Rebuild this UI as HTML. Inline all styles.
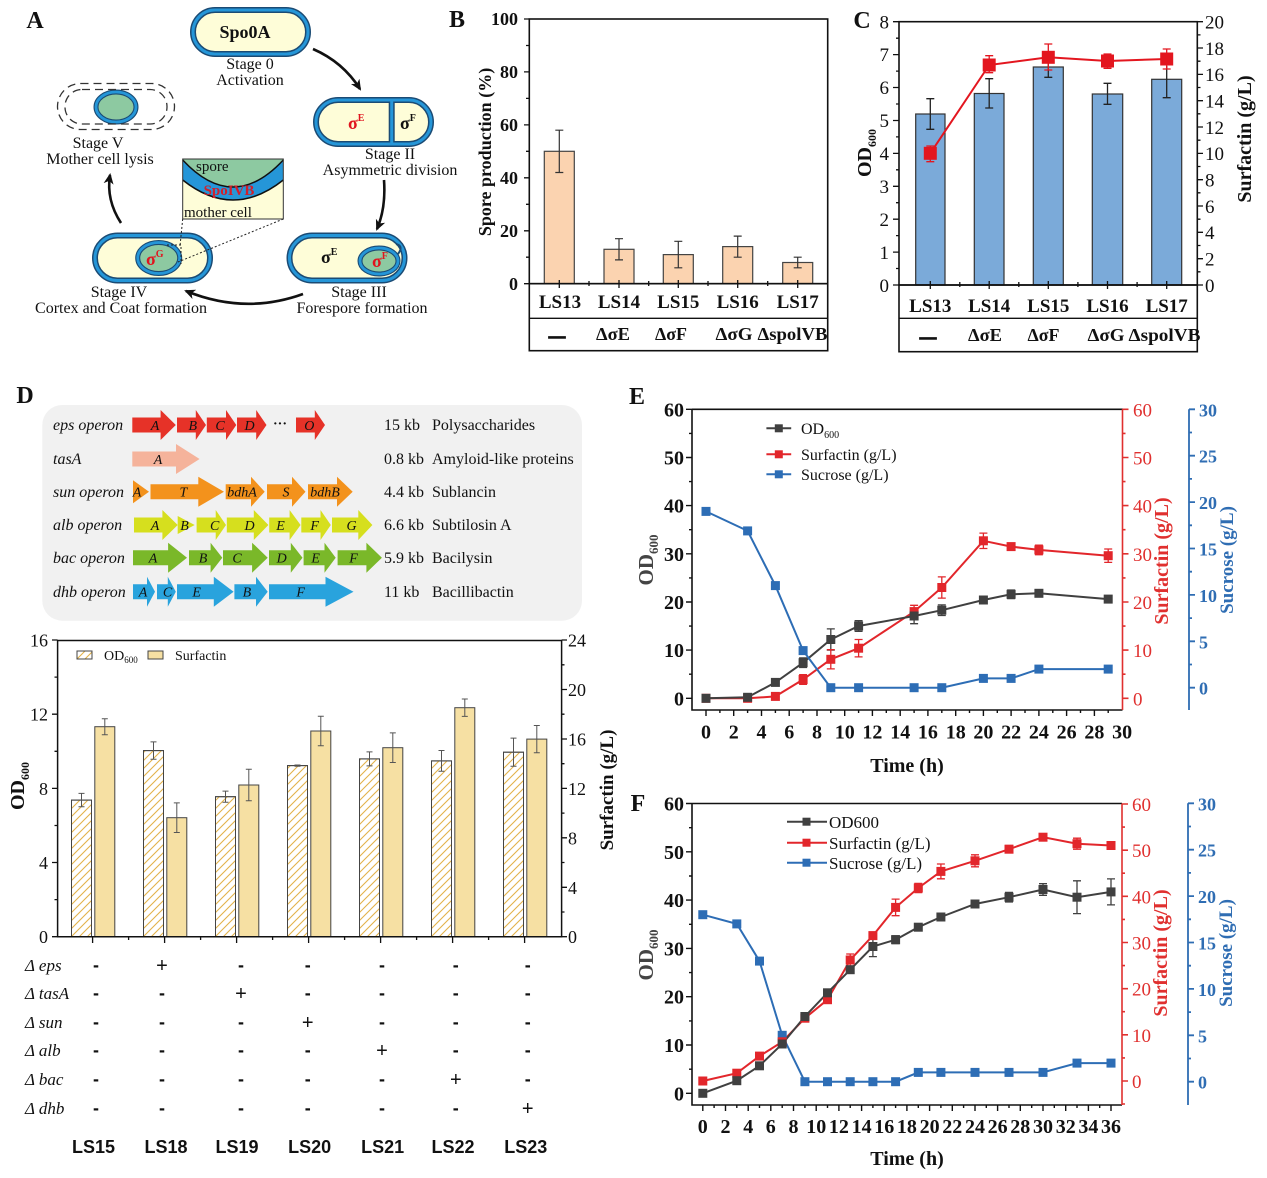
<!DOCTYPE html>
<html><head><meta charset="utf-8">
<style>
html,body{margin:0;padding:0;background:#fff;}
svg{display:block;}
text{font-family:"Liberation Serif","DejaVu Serif",serif;fill:#111;}
.b{font-weight:bold;}
.i{font-style:italic;}
.s{font-family:"Liberation Sans","DejaVu Sans",sans-serif;}
</style></head><body>
<svg width="1267" height="1178" viewBox="0 0 1267 1178" xmlns="http://www.w3.org/2000/svg">
<defs>
<marker id="ah" markerWidth="12" markerHeight="12" refX="9" refY="6" orient="auto" markerUnits="userSpaceOnUse"><path d="M0,1 L11,6 L0,11 L3,6 Z" fill="#111"/></marker>
<pattern id="hatch" width="8" height="8" patternUnits="userSpaceOnUse"><path d="M-1,9 L9,-1 M-1,1 L1,-1 M7,9 L9,7" stroke="#E3B24A" stroke-width="1.1"/></pattern>
</defs>
<rect width="1267" height="1178" fill="#fff"/>

<!-- ============ PANEL A ============ -->
<text x="35" y="28" font-size="24" class="b" text-anchor="middle">A</text>
<g fill="#FEFDD8" stroke="#1B4B74" stroke-width="6">
<rect x="193" y="10" width="115" height="44" rx="22"/>
<rect x="316" y="100" width="115" height="44" rx="22"/>
<rect x="289.5" y="235.5" width="115" height="45" rx="22.5"/>
<rect x="95" y="235.5" width="115" height="45" rx="22.5"/>
<line x1="391.7" y1="100" x2="391.7" y2="144"/>
</g>
<g fill="none" stroke="#2596D8" stroke-width="3">
<rect x="193" y="10" width="115" height="44" rx="22"/>
<rect x="316" y="100" width="115" height="44" rx="22"/>
<rect x="289.5" y="235.5" width="115" height="45" rx="22.5"/>
<rect x="95" y="235.5" width="115" height="45" rx="22.5"/>
<line x1="391.7" y1="101" x2="391.7" y2="143"/>
</g>
<g stroke="#1B4B74" stroke-width="5" fill="#8DC9A1">
<ellipse cx="379" cy="261" rx="19" ry="13"/>
<ellipse cx="158.7" cy="258" rx="21" ry="15.5"/>
<ellipse cx="116" cy="107" rx="20" ry="15"/>
</g>
<g stroke="#2596D8" stroke-width="2.8" fill="none">
<ellipse cx="379" cy="261" rx="19" ry="13"/>
<ellipse cx="158.7" cy="258" rx="21" ry="15.5"/>
<ellipse cx="116" cy="107" rx="20" ry="15"/>
</g>
<path d="M398,254 Q404,246 396,244" fill="none" stroke="#1B4B74" stroke-width="2"/>
<rect x="57.5" y="83.5" width="117" height="46" rx="23" fill="none" stroke="#333" stroke-width="1.3" stroke-dasharray="8,5"/>
<rect x="65" y="89.5" width="102" height="34.5" rx="17" fill="none" stroke="#333" stroke-width="1.3" stroke-dasharray="8,5"/>
<text x="348" y="129" font-size="18" class="b" style="fill:#E0141E">σ<tspan font-size="10" dy="-8">E</tspan></text>
<text x="400" y="129" font-size="18" class="b">σ<tspan font-size="10" dy="-8">F</tspan></text>
<text x="321" y="263" font-size="18" class="b">σ<tspan font-size="10" dy="-8">E</tspan></text>
<text x="372" y="267" font-size="18" class="b" style="fill:#E0141E">σ<tspan font-size="10" dy="-8">F</tspan></text>
<text x="146" y="265" font-size="18" class="b" style="fill:#E0141E">σ<tspan font-size="10" dy="-8">G</tspan></text>
<text x="245" y="38" font-size="18" class="b" text-anchor="middle">Spo0A</text>
<g font-size="16" text-anchor="middle">
<text x="250" y="69">Stage 0</text>
<text x="250" y="85">Activation</text>
<text x="390" y="159">Stage II</text>
<text x="390" y="175">Asymmetric division</text>
<text x="359" y="297">Stage III</text>
<text x="362" y="313">Forespore formation</text>
<text x="119" y="297">Stage IV</text>
<text x="121" y="313">Cortex and Coat formation</text>
<text x="98" y="148">Stage V</text>
<text x="100" y="164">Mother cell lysis</text>
</g>
<rect x="182.7" y="159" width="100.6" height="60" fill="#FEFDD8"/>
<path d="M182.7,159 H283.3 V160 Q233,214 182.7,160 Z" fill="#8DC9A1"/>
<path d="M182.7,160 Q233,214 283.3,160 V180 Q233,220 182.7,180 Z" fill="#2596D8"/>
<path d="M182.7,160 Q233,214 283.3,160 M182.7,180 Q233,220 283.3,180" fill="none" stroke="#111" stroke-width="1.5"/>
<rect x="182.7" y="159" width="100.6" height="60" fill="none" stroke="#333" stroke-width="1"/>
<text x="196" y="171" font-size="15">spore</text>
<text x="229" y="195" font-size="15" class="b" text-anchor="middle" style="fill:#D0202C">SpoIVB</text>
<text x="184" y="217" font-size="15">mother cell</text>
<g stroke="#222" stroke-width="1" stroke-dasharray="2,2" fill="none">
<path d="M182.7,219 L180,246 M283.3,219 L178,262 M167,245 H181 V264"/>
</g>
<g fill="none" stroke="#111" stroke-width="2.6" marker-end="url(#ah)">
<path d="M313,49 Q343,62 360,89"/>
<path d="M384,180 Q386,208 377,229"/>
<path d="M303,294 Q245,315 186,291"/>
<path d="M121,223 Q106,200 110,175"/>
</g>

<!-- ============ PANEL B ============ -->
<text x="457" y="27" font-size="24" class="b" text-anchor="middle">B</text>
<g fill="#FBD3B0" stroke="#444" stroke-width="1.2">
<rect x="544.3" y="151.3" width="30" height="132.4"/>
<rect x="604" y="249.3" width="30" height="34.4"/>
<rect x="663.3" y="254.6" width="30" height="29.1"/>
<rect x="722.7" y="246.6" width="30" height="37.1"/>
<rect x="782.7" y="262.5" width="30" height="21.2"/>
</g>
<path d="M559.3,130.2V172.5M555.3,130.2H563.3M555.3,172.5H563.3 M619,238.7V259.9M615,238.7H623M615,259.9H623 M678.3,241.3V267.8M674.3,241.3H682.3M674.3,267.8H682.3 M737.7,236.1V257.2M733.7,236.1H741.7M733.7,257.2H741.7 M797.7,257.2V267.8M793.7,257.2H801.7M793.7,267.8H801.7" stroke="#333" stroke-width="1.2" fill="none"/>
<rect x="529.3" y="19" width="298.4" height="264.7" fill="none" stroke="#111" stroke-width="1.6"/>
<rect x="529.3" y="283.7" width="298.4" height="67" fill="none" stroke="#111" stroke-width="1.6"/>
<line x1="529.3" y1="318.3" x2="827.7" y2="318.3" stroke="#111" stroke-width="1.3"/>
<path d="M524,283.7H529.3M524,230.8H529.3M524,177.8H529.3M524,124.9H529.3M524,71.9H529.3M524,19H529.3 M526,257.2H529.3M526,204.3H529.3M526,151.3H529.3M526,98.4H529.3M526,45.5H529.3 M559.3,280V288M619,280V288M678.3,280V288M737.7,280V288M797.7,280V288 M589,281V286M648.7,281V286M708,281V286M767.7,281V286" stroke="#111" stroke-width="1.3"/>
<g font-size="18" class="b" text-anchor="end">
<text x="518" y="25" class="b">100</text>
<text x="518" y="78" class="b">80</text>
<text x="518" y="131" class="b">60</text>
<text x="518" y="184" class="b">40</text>
<text x="518" y="237" class="b">20</text>
<text x="518" y="290" class="b">0</text>
</g>
<text transform="translate(491,152) rotate(-90)" font-size="18" class="b" text-anchor="middle">Spore production (%)</text>
<g font-size="19" class="b" text-anchor="middle">
<text x="560" y="308" class="b">LS13</text>
<text x="619" y="308" class="b">LS14</text>
<text x="678.3" y="308" class="b">LS15</text>
<text x="737.7" y="308" class="b">LS16</text>
<text x="797.7" y="308" class="b">LS17</text>
</g>
<g font-size="18" class="b" text-anchor="middle">
<text x="557" y="341" class="b" stroke="#111" stroke-width="1.6" font-size="16">—</text>
<text x="613" y="340" class="b" textLength="34" lengthAdjust="spacingAndGlyphs">ΔσE</text>
<text x="671" y="340" class="b" textLength="32" lengthAdjust="spacingAndGlyphs">ΔσF</text>
<text x="734" y="340" class="b" textLength="37" lengthAdjust="spacingAndGlyphs">ΔσG</text>
<text x="792.5" y="340" class="b" textLength="70" lengthAdjust="spacingAndGlyphs">ΔspolVB</text>
</g>

<!-- ============ PANEL C ============ -->
<text x="862" y="28" font-size="24" class="b" text-anchor="middle">C</text>
<g fill="#7BAAD9" stroke="#333" stroke-width="1.2">
<rect x="915.7" y="114" width="29.3" height="171"/>
<rect x="974.3" y="93.5" width="29.7" height="191.5"/>
<rect x="1033.3" y="67" width="30" height="218"/>
<rect x="1092.3" y="94" width="30.4" height="191"/>
<rect x="1151.7" y="79.3" width="30" height="205.7"/>
</g>
<path d="M930.3,98.7V129.3M926.3,98.7H934.3M926.3,129.3H934.3 M989.2,78.7V108M985.2,78.7H993.2M985.2,108H993.2 M1048.3,60V77.3M1044.3,77.3H1052.3 M1107.5,83.3V104.3M1103.5,83.3H1111.5M1103.5,104.3H1111.5 M1166.7,66V97.7M1162.7,97.7H1170.7" stroke="#222" stroke-width="1.3" fill="none"/>
<polyline points="930.3,153.3 989.2,65 1048.3,57.3 1107.5,61 1166.7,59" fill="none" stroke="#E3161F" stroke-width="2"/>
<path d="M930.3,146V161.7M926.3,146H934.3M926.3,161.7H934.3 M989.2,55.7V72.7M985.2,55.7H993.2M985.2,72.7H993.2 M1048.3,44V70M1044.3,44H1052.3M1044.3,70H1052.3 M1107.5,54V68.3M1103.5,54H1111.5M1103.5,68.3H1111.5 M1166.7,49V69M1162.7,49H1170.7M1162.7,69H1170.7" stroke="#E3161F" stroke-width="1.3" fill="none"/>
<g fill="#E3161F">
<rect x="923.8" y="146.8" width="13" height="13"/>
<rect x="982.7" y="58.5" width="13" height="13"/>
<rect x="1041.8" y="50.8" width="13" height="13"/>
<rect x="1101" y="54.5" width="13" height="13"/>
<rect x="1160.2" y="52.5" width="13" height="13"/>
</g>
<rect x="899" y="21.7" width="298.3" height="263.3" fill="none" stroke="#111" stroke-width="1.6"/>
<rect x="899" y="285" width="298.3" height="66.7" fill="none" stroke="#111" stroke-width="1.6"/>
<line x1="899" y1="318.3" x2="1197.3" y2="318.3" stroke="#111" stroke-width="1.3"/>
<path d="M893,285H899M893,252.1H899M893,219.2H899M893,186.3H899M893,153.4H899M893,120.5H899M893,87.5H899M893,54.6H899M893,21.7H899 M896,268.5H899M896,235.6H899M896,202.7H899M896,169.8H899M896,136.9H899M896,104H899M896,71.1H899M896,38.2H899 M1197.3,285H1203M1197.3,258.7H1203M1197.3,232.3H1203M1197.3,206H1203M1197.3,179.7H1203M1197.3,153.4H1203M1197.3,127H1203M1197.3,100.7H1203M1197.3,74.4H1203M1197.3,48H1203M1197.3,21.7H1203 M1197.3,271.8H1200.5M1197.3,245.5H1200.5M1197.3,219.2H1200.5M1197.3,192.8H1200.5M1197.3,166.5H1200.5M1197.3,140.2H1200.5M1197.3,113.8H1200.5M1197.3,87.5H1200.5M1197.3,61.2H1200.5M1197.3,34.9H1200.5 M930.3,281V289M989.2,281V289M1048.3,281V289M1107.5,281V289M1166.7,281V289 M959.8,282V287M1018.8,282V287M1077.9,282V287M1137.1,282V287" stroke="#111" stroke-width="1.3"/>
<g font-size="19" text-anchor="end">
<text x="889" y="292">0</text><text x="889" y="259">1</text><text x="889" y="226">2</text><text x="889" y="193">3</text><text x="889" y="160">4</text><text x="889" y="127">5</text><text x="889" y="94">6</text><text x="889" y="61">7</text><text x="889" y="28.5">8</text>
</g>
<g font-size="19" text-anchor="start">
<text x="1205" y="292">0</text><text x="1205" y="265.5">2</text><text x="1205" y="239">4</text><text x="1205" y="213">6</text><text x="1205" y="186.5">8</text><text x="1205" y="160">10</text><text x="1205" y="134">12</text><text x="1205" y="107.5">14</text><text x="1205" y="81">16</text><text x="1205" y="55">18</text><text x="1205" y="28.5">20</text>
</g>
<text transform="translate(871,153) rotate(-90)" font-size="20" class="b" text-anchor="middle">OD<tspan font-size="12" dy="5">600</tspan></text>
<text transform="translate(1251,139) rotate(-90)" font-size="20" class="b" text-anchor="middle">Surfactin (g/L)</text>
<g font-size="19" class="b" text-anchor="middle">
<text x="930.3" y="312" class="b">LS13</text>
<text x="989.2" y="312" class="b">LS14</text>
<text x="1048.3" y="312" class="b">LS15</text>
<text x="1107.5" y="312" class="b">LS16</text>
<text x="1166.7" y="312" class="b">LS17</text>
</g>
<g font-size="18" class="b" text-anchor="middle">
<text x="928" y="342" class="b" stroke="#111" stroke-width="1.6" font-size="16">—</text>
<text x="985" y="341" class="b" textLength="34" lengthAdjust="spacingAndGlyphs">ΔσE</text>
<text x="1043.5" y="341" class="b" textLength="32" lengthAdjust="spacingAndGlyphs">ΔσF</text>
<text x="1106" y="341" class="b" textLength="37" lengthAdjust="spacingAndGlyphs">ΔσG</text>
<text x="1164.5" y="341" class="b" textLength="72" lengthAdjust="spacingAndGlyphs">ΔspolVB</text>
</g>

<!-- ============ PANEL D top ============ -->
<text x="25" y="403" font-size="24" class="b" text-anchor="middle">D</text>
<rect x="42.3" y="405" width="539.7" height="215.7" rx="20" fill="#F1F1F1"/>
<g fill="#E63228">
<path d="M132.3,417.5H160.6V410L175.8,425L160.6,440V432.5H132.3Z"/>
<path d="M177,417.5H195.8V410L206,425L195.8,440V432.5H177Z"/>
<path d="M206.8,417.5H226V410L236.3,425L226,440V432.5H206.8Z"/>
<path d="M237,417.5H256.2V410L266.5,425L256.2,440V432.5H237Z"/>
<path d="M296,417.5H314.8V410L325,425L314.8,440V432.5H296Z"/>
</g>
<path fill="#F5B39B" d="M132.3,451.5H176V444L199.6,459L176,474V466.5H132.3Z"/>
<g fill="#F3921C">
<path d="M133,480.2L149,491.7L133,503.2Z"/>
<path d="M150.5,484.2H198.3V476.7L224,491.7L198.3,506.7V499.2H150.5Z"/>
<path d="M225.7,484.2H251V476.7L264.7,491.7L251,506.7V499.2H225.7Z"/>
<path d="M267,484.2H292V476.7L305.5,491.7L292,506.7V499.2H267Z"/>
<path d="M308,484.2H337V476.7L352.7,491.7L337,506.7V499.2H308Z"/>
</g>
<g fill="#D6DF1E">
<path d="M134,517.5H162.4V510L177.7,525L162.4,540V532.5H134Z"/>
<path d="M177.7,516L194.7,525L177.7,534Z"/>
<path d="M196.6,517.5H215.7V510L226,525L215.7,540V532.5H196.6Z"/>
<path d="M226.8,517.5H253.8V510L268.4,525L253.8,540V532.5H226.8Z"/>
<path d="M269.2,517.5H289.6V510L300.6,525L289.6,540V532.5H269.2Z"/>
<path d="M301.3,517.5H320.5V510L330.8,525L320.5,540V532.5H301.3Z"/>
<path d="M332,517.5H358.3V510L372.4,525L358.3,540V532.5H332Z"/>
</g>
<g fill="#7AB829">
<path d="M133,550.2H168.1V542.7L187,557.7L168.1,572.7V565.2H133Z"/>
<path d="M189,550.2H210.6V542.7L222.3,557.7L210.6,572.7V565.2H189Z"/>
<path d="M223,550.2H252.1V542.7L267.7,557.7L252.1,572.7V565.2H223Z"/>
<path d="M269,550.2H290.8V542.7L302.5,557.7L290.8,572.7V565.2H269Z"/>
<path d="M303.6,550.2H324.5V542.7L335.7,557.7L324.5,572.7V565.2H303.6Z"/>
<path d="M337.6,550.2H366.4V542.7L381.9,557.7L366.4,572.7V565.2H337.6Z"/>
</g>
<g fill="#29A3DD">
<path d="M133,584.2H147V576.7L155,591.7L147,606.7V599.2H133Z"/>
<path d="M157,584.2H167.8V576.7L175.8,591.7L167.8,606.7V599.2H157Z"/>
<path d="M177,584.2H213.8V576.7L233.6,591.7L213.8,606.7V599.2H177Z"/>
<path d="M234.4,584.2H256V576.7L267.7,591.7L256,606.7V599.2H234.4Z"/>
<path d="M269,584.2H325.5V576.7L353.5,591.7L325.5,606.7V599.2H269Z"/>
</g>
<g font-size="14" class="i" text-anchor="middle">
<text x="155" y="430" class="i">A</text><text x="192.8" y="430" class="i">B</text><text x="220" y="430" class="i">C</text><text x="249.5" y="430" class="i">D</text><text x="309.3" y="430" class="i">O</text>
<text x="158" y="464" class="i">A</text>
<text x="137" y="496.7" class="i">A</text><text x="183.4" y="496.7" class="i">T</text><text x="242" y="496.7" class="i">bdhA</text><text x="286" y="496.7" class="i">S</text><text x="325" y="496.7" class="i">bdhB</text>
<text x="155" y="530" class="i">A</text><text x="184.5" y="530" class="i">B</text><text x="214.7" y="530" class="i">C</text><text x="249.5" y="530" class="i">D</text><text x="280.5" y="530" class="i">E</text><text x="314.6" y="530" class="i">F</text><text x="351.6" y="530" class="i">G</text>
<text x="153" y="562.7" class="i">A</text><text x="203" y="562.7" class="i">B</text><text x="237" y="562.7" class="i">C</text><text x="281.7" y="562.7" class="i">D</text><text x="315.7" y="562.7" class="i">E</text><text x="353.5" y="562.7" class="i">F</text>
<text x="143" y="596.7" class="i">A</text><text x="167.5" y="596.7" class="i">C</text><text x="196.6" y="596.7" class="i">E</text><text x="246.9" y="596.7" class="i">B</text><text x="300.6" y="596.7" class="i">F</text>
</g>
<text x="280" y="428" font-size="14" class="b" text-anchor="middle">···</text>
<g font-size="16" class="i">
<text x="53" y="430" class="i">eps operon</text>
<text x="53" y="464" class="i">tasA</text>
<text x="53" y="497" class="i">sun operon</text>
<text x="53" y="530" class="i">alb operon</text>
<text x="53" y="563" class="i">bac operon</text>
<text x="53" y="597" class="i">dhb operon</text>
</g>
<g font-size="16">
<text x="384" y="430">15 kb</text><text x="432" y="430">Polysaccharides</text>
<text x="384" y="464">0.8 kb</text><text x="432" y="464">Amyloid-like proteins</text>
<text x="384" y="497">4.4 kb</text><text x="432" y="497">Sublancin</text>
<text x="384" y="530">6.6 kb</text><text x="432" y="530">Subtilosin A</text>
<text x="384" y="563">5.9 kb</text><text x="432" y="563">Bacilysin</text>
<text x="384" y="597">11 kb</text><text x="432" y="597">Bacillibactin</text>
</g>

<!-- ============ PANEL D bottom ============ -->
<g stroke="#444" stroke-width="1">
<rect x="71.5" y="800.1" width="20" height="136.6" fill="#fff"/>
<rect x="143.5" y="750.6" width="20" height="186.1" fill="#fff"/>
<rect x="215.5" y="796.7" width="20" height="140" fill="#fff"/>
<rect x="287.5" y="765.6" width="20" height="171.1" fill="#fff"/>
<rect x="359.5" y="758.9" width="20" height="177.8" fill="#fff"/>
<rect x="431.5" y="760.9" width="20" height="175.8" fill="#fff"/>
<rect x="503.5" y="752.2" width="20" height="184.5" fill="#fff"/>
</g>
<g fill="url(#hatch)" stroke="#444" stroke-width="1">
<rect x="71.5" y="800.1" width="20" height="136.6"/>
<rect x="143.5" y="750.6" width="20" height="186.1"/>
<rect x="215.5" y="796.7" width="20" height="140"/>
<rect x="287.5" y="765.6" width="20" height="171.1"/>
<rect x="359.5" y="758.9" width="20" height="177.8"/>
<rect x="431.5" y="760.9" width="20" height="175.8"/>
<rect x="503.5" y="752.2" width="20" height="184.5"/>
</g>
<g fill="#F6E0A3" stroke="#444" stroke-width="1">
<rect x="94.8" y="726.7" width="20" height="210"/>
<rect x="166.8" y="817.7" width="20" height="119"/>
<rect x="238.8" y="785" width="20" height="151.7"/>
<rect x="310.8" y="731" width="20" height="205.7"/>
<rect x="382.8" y="747.7" width="20" height="189"/>
<rect x="454.8" y="707.7" width="20" height="229"/>
<rect x="526.8" y="739.1" width="20" height="197.6"/>
</g>
<path d="M81.5,793.4V806.8M78.5,793.4H84.5M78.5,806.8H84.5 M153.5,741.9V759.3M150.5,741.9H156.5M150.5,759.3H156.5 M225.5,791.1V802.3M222.5,791.1H228.5M222.5,802.3H228.5 M297.5,765V766.2M294.5,765H300.5M294.5,766.2H300.5 M369.5,751.9V765.9M366.5,751.9H372.5M366.5,765.9H372.5 M441.5,750.5V771.3M438.5,750.5H444.5M438.5,771.3H444.5 M513.5,738.1V766.3M510.5,738.1H516.5M510.5,766.3H516.5 M104.8,718.7V734.7M101.8,718.7H107.8M101.8,734.7H107.8 M176.8,802.9V832.5M173.8,802.9H179.8M173.8,832.5H179.8 M248.8,769.3V800.7M245.8,769.3H251.8M245.8,800.7H251.8 M320.8,716.2V745.8M317.8,716.2H323.8M317.8,745.8H323.8 M392.8,732.9V762.5M389.8,732.9H395.8M389.8,762.5H395.8 M464.8,699V716.4M461.8,699H467.8M461.8,716.4H467.8 M536.8,725.5V752.7M533.8,725.5H539.8M533.8,752.7H539.8" stroke="#555" stroke-width="1" fill="none"/>
<path d="M57.6,640V936.7H561.6V640M57.6,640.5H561.6" fill="none" stroke="#111" stroke-width="1.5"/>
<path d="M52,936.7H57.6M52,862.5H57.6M52,788.4H57.6M52,714.2H57.6M52,640H57.6 M54.5,899.6H57.6M54.5,825.5H57.6M54.5,751.3H57.6M54.5,677.1H57.6 M561.6,936.7H567M561.6,887.3H567M561.6,837.8H567M561.6,788.4H567M561.6,739H567M561.6,689.5H567M561.6,640H567 M561.6,912H564.5M561.6,862.5H564.5M561.6,813.1H564.5M561.6,763.7H564.5M561.6,714.2H564.5M561.6,664.8H564.5 M92.6,936.7V943M164.6,936.7V943M236.6,936.7V943M308.6,936.7V943M380.6,936.7V943M452.6,936.7V943M524.6,936.7V943 M128.6,936.7V940M200.6,936.7V940M272.6,936.7V940M344.6,936.7V940M416.6,936.7V940M488.6,936.7V940" stroke="#111" stroke-width="1.3"/>
<g font-size="18" text-anchor="end">
<text x="48" y="943">0</text><text x="48" y="869">4</text><text x="48" y="795">8</text><text x="48" y="720.5">12</text><text x="48" y="646.5">16</text>
</g>
<g font-size="18">
<text x="568" y="943">0</text><text x="568" y="894">4</text><text x="568" y="844.5">8</text><text x="568" y="795">12</text><text x="568" y="745.5">16</text><text x="568" y="696">20</text><text x="568" y="646.5">24</text>
</g>
<text transform="translate(24,786) rotate(-90)" font-size="20" class="b" text-anchor="middle">OD<tspan font-size="12" dy="5">600</tspan></text>
<text transform="translate(613,790) rotate(-90)" font-size="19" class="b" text-anchor="middle">Surfactin (g/L)</text>
<rect x="77" y="651" width="15" height="8" fill="url(#hatch)" stroke="#444" stroke-width="1"/>
<text x="104" y="660" font-size="14">OD<tspan font-size="9" dy="3">600</tspan></text>
<rect x="148" y="651" width="15" height="8" fill="#F6E0A3" stroke="#444" stroke-width="1"/>
<text x="175" y="660" font-size="14">Surfactin</text>
<g font-size="17" class="i">
<text x="25" y="971" class="i">Δ eps</text>
<text x="25" y="999" class="i">Δ tasA</text>
<text x="25" y="1028" class="i">Δ sun</text>
<text x="25" y="1056" class="i">Δ alb</text>
<text x="25" y="1085" class="i">Δ bac</text>
<text x="25" y="1114" class="i">Δ dhb</text>
</g>
<g class="s" font-size="18" text-anchor="middle">
<text x="96" y="971" class="s b">-</text><text x="162" y="972" class="s" font-size="20">+</text><text x="241" y="971" class="s b">-</text><text x="307.7" y="971" class="s b">-</text><text x="382" y="971" class="s b">-</text><text x="455.8" y="971" class="s b">-</text><text x="527.7" y="971" class="s b">-</text>
<text x="96" y="999" class="s b">-</text><text x="162" y="999" class="s b">-</text><text x="241" y="1000" class="s" font-size="20">+</text><text x="307.7" y="999" class="s b">-</text><text x="382" y="999" class="s b">-</text><text x="455.8" y="999" class="s b">-</text><text x="527.7" y="999" class="s b">-</text>
<text x="96" y="1028" class="s b">-</text><text x="162" y="1028" class="s b">-</text><text x="241" y="1028" class="s b">-</text><text x="307.7" y="1029" class="s" font-size="20">+</text><text x="382" y="1028" class="s b">-</text><text x="455.8" y="1028" class="s b">-</text><text x="527.7" y="1028" class="s b">-</text>
<text x="96" y="1056" class="s b">-</text><text x="162" y="1056" class="s b">-</text><text x="241" y="1056" class="s b">-</text><text x="307.7" y="1056" class="s b">-</text><text x="382" y="1057" class="s" font-size="20">+</text><text x="455.8" y="1056" class="s b">-</text><text x="527.7" y="1056" class="s b">-</text>
<text x="96" y="1085" class="s b">-</text><text x="162" y="1085" class="s b">-</text><text x="241" y="1085" class="s b">-</text><text x="307.7" y="1085" class="s b">-</text><text x="382" y="1085" class="s b">-</text><text x="455.8" y="1086" class="s" font-size="20">+</text><text x="527.7" y="1085" class="s b">-</text>
<text x="96" y="1114" class="s b">-</text><text x="162" y="1114" class="s b">-</text><text x="241" y="1114" class="s b">-</text><text x="307.7" y="1114" class="s b">-</text><text x="382" y="1114" class="s b">-</text><text x="455.8" y="1114" class="s b">-</text><text x="527.7" y="1115" class="s" font-size="20">+</text>
</g>
<g class="s b" font-size="18" text-anchor="middle">
<text x="93.5" y="1153" class="s b">LS15</text><text x="166" y="1153" class="s b">LS18</text><text x="237" y="1153" class="s b">LS19</text><text x="309.6" y="1153" class="s b">LS20</text><text x="382.7" y="1153" class="s b">LS21</text><text x="453" y="1153" class="s b">LS22</text><text x="525.8" y="1153" class="s b">LS23</text>
</g>

<!-- ============ PANEL E ============ -->
<text x="637" y="404" font-size="24" class="b" text-anchor="middle">E</text>
<path d="M692,409.3V710H1122.5M692,409.3H1122.5" fill="none" stroke="#111" stroke-width="1.6"/>
<path d="M686,698.3H692M686,650.1H692M686,602H692M686,553.8H692M686,505.6H692M686,457.5H692M686,409.3H692 M689,674.2H692M689,626.1H692M689,577.9H692M689,529.7H692M689,481.6H692M689,433.4H692 M706,710V716M733.7,710V716M761.5,710V716M789.2,710V716M817,710V716M844.7,710V716M872.4,710V716M900.2,710V716M927.9,710V716M955.7,710V716M983.4,710V716M1011.1,710V716M1038.9,710V716M1066.6,710V716M1094.4,710V716 M719.9,710V713M747.6,710V713M775.4,710V713M803.1,710V713M830.8,710V713M858.6,710V713M886.3,710V713M914.1,710V713M941.8,710V713M969.5,710V713M997.3,710V713M1025,710V713M1052.8,710V713M1080.5,710V713M1108.2,710V713" stroke="#111" stroke-width="1.4"/>
<path d="M1122.5,409.3V710 M1122.5,698.3H1128.5M1122.5,650.1H1128.5M1122.5,602H1128.5M1122.5,553.8H1128.5M1122.5,505.6H1128.5M1122.5,457.5H1128.5M1122.5,409.3H1128.5 M1122.5,674.2H1125.5M1122.5,626.1H1125.5M1122.5,577.9H1125.5M1122.5,529.7H1125.5M1122.5,481.6H1125.5M1122.5,433.4H1125.5" stroke="#E0302F" stroke-width="1.6" fill="none"/>
<path d="M1189,409.3V710 M1189,687.7H1195M1189,641.3H1195M1189,594.9H1195M1189,548.5H1195M1189,502.1H1195M1189,455.7H1195M1189,409.3H1195 M1189,664.5H1192M1189,618.1H1192M1189,571.7H1192M1189,525.3H1192M1189,478.9H1192M1189,432.5H1192" stroke="#2F6DB3" stroke-width="1.8" fill="none"/>
<g font-size="20" class="b" text-anchor="end" style="fill:#444">
<text x="684" y="416.3" class="b">60</text><text x="684" y="464.5" class="b">50</text><text x="684" y="512.6" class="b">40</text><text x="684" y="560.8" class="b">30</text><text x="684" y="609" class="b">20</text><text x="684" y="657.1" class="b">10</text><text x="684" y="705.3" class="b">0</text>
</g>
<g font-size="19" style="fill:#E0302F">
<text x="1133" y="416.3" style="fill:#E0302F">60</text><text x="1133" y="464.5" style="fill:#E0302F">50</text><text x="1133" y="512.6" style="fill:#E0302F">40</text><text x="1133" y="560.8" style="fill:#E0302F">30</text><text x="1133" y="609" style="fill:#E0302F">20</text><text x="1133" y="657.1" style="fill:#E0302F">10</text><text x="1133" y="705.3" style="fill:#E0302F">0</text>
</g>
<g font-size="18" class="b">
<text x="1199" y="416.3" class="b" style="fill:#2F6DB3">30</text><text x="1199" y="462.7" class="b" style="fill:#2F6DB3">25</text><text x="1199" y="509.1" class="b" style="fill:#2F6DB3">20</text><text x="1199" y="555.5" class="b" style="fill:#2F6DB3">15</text><text x="1199" y="601.9" class="b" style="fill:#2F6DB3">10</text><text x="1199" y="648.3" class="b" style="fill:#2F6DB3">5</text><text x="1199" y="694.7" class="b" style="fill:#2F6DB3">0</text>
</g>
<g font-size="20" class="b" text-anchor="middle">
<text x="706" y="738.5" class="b">0</text><text x="733.7" y="738.5" class="b">2</text><text x="761.5" y="738.5" class="b">4</text><text x="789.2" y="738.5" class="b">6</text><text x="817" y="738.5" class="b">8</text><text x="844.7" y="738.5" class="b">10</text><text x="872.4" y="738.5" class="b">12</text><text x="900.2" y="738.5" class="b">14</text><text x="927.9" y="738.5" class="b">16</text><text x="955.7" y="738.5" class="b">18</text><text x="983.4" y="738.5" class="b">20</text><text x="1011.1" y="738.5" class="b">22</text><text x="1038.9" y="738.5" class="b">24</text><text x="1066.6" y="738.5" class="b">26</text><text x="1094.4" y="738.5" class="b">28</text><text x="1122.1" y="738.5" class="b">30</text>
</g>
<text x="907" y="772" font-size="20" class="b" text-anchor="middle">Time (h)</text>
<text transform="translate(653,560) rotate(-90)" font-size="21" class="b" text-anchor="middle" style="fill:#444">OD<tspan font-size="13" dy="5" style="fill:#444">600</tspan></text>
<text transform="translate(1168,561) rotate(-90)" font-size="20" class="b" text-anchor="middle" style="fill:#E0302F">Surfactin (g/L)</text>
<text transform="translate(1233,560) rotate(-90)" font-size="19" class="b" text-anchor="middle" style="fill:#2F6DB3">Sucrose (g/L)</text>
<polyline points="706,698.3 747.6,698.3 775.4,696.4 803.1,679.5 830.8,659.3 858.6,648.2 914.1,611.6 941.8,587.5 983.4,540.8 1011.1,546.6 1038.9,549.9 1108.2,555.7" fill="none" stroke="#E2262B" stroke-width="2"/>
<polyline points="706,698.3 747.6,697.3 775.4,682.4 803.1,662.7 830.8,639.5 858.6,626 914.1,616 941.8,610.2 983.4,600 1011.1,594.3 1038.9,593.3 1108.2,599.1" fill="none" stroke="#404040" stroke-width="2"/>
<polyline points="706,511.4 747.6,530.9 775.4,585.6 803.1,650.6 830.8,687.7 858.6,687.7 914.1,687.7 941.8,687.7 983.4,678.4 1011.1,678.4 1038.9,669.1 1108.2,669.1" fill="none" stroke="#2D6DB5" stroke-width="2"/>
<path d="M803.1,657.9V667.5M799.1,657.9H807.1M799.1,667.5H807.1 M830.8,628.9V650.1M826.8,628.9H834.8M826.8,650.1H834.8 M858.6,620.7V631.3M854.6,620.7H862.6M854.6,631.3H862.6 M914.1,608.3V623.7M910.1,608.3H918.1M910.1,623.7H918.1 M941.8,604.9V615.5M937.8,604.9H945.8M937.8,615.5H945.8 M983.4,596.6V603.4M979.4,596.6H987.4M979.4,603.4H987.4 M1011.1,590V598.6M1007.1,590H1015.1M1007.1,598.6H1015.1 M1038.9,590.9V595.7M1034.9,590.9H1042.9M1034.9,595.7H1042.9 M1108.2,596.2V602M1104.2,596.2H1112.2M1104.2,602H1112.2" stroke="#404040" stroke-width="1.3" fill="none"/>
<path d="M803.1,674.7V684.3M799.1,674.7H807.1M799.1,684.3H807.1 M830.8,649.7V668.9M826.8,649.7H834.8M826.8,668.9H834.8 M858.6,639.5V656.9M854.6,639.5H862.6M854.6,656.9H862.6 M914.1,605.3V617.9M910.1,605.3H918.1M910.1,617.9H918.1 M941.8,576.9V598.1M937.8,576.9H945.8M937.8,598.1H945.8 M983.4,533.1V548.5M979.4,533.1H987.4M979.4,548.5H987.4 M1011.1,544.2V549M1007.1,544.2H1015.1M1007.1,549H1015.1 M1038.9,545.1V554.7M1034.9,545.1H1042.9M1034.9,554.7H1042.9 M1108.2,549V562.4M1104.2,549H1112.2M1104.2,562.4H1112.2" stroke="#E2262B" stroke-width="1.3" fill="none"/>
<g fill="#E2262B">
<rect x="701.5" y="693.8" width="9" height="9"/><rect x="743.1" y="693.8" width="9" height="9"/><rect x="770.9" y="691.9" width="9" height="9"/><rect x="798.6" y="675" width="9" height="9"/><rect x="826.3" y="654.8" width="9" height="9"/><rect x="854.1" y="643.7" width="9" height="9"/><rect x="909.6" y="607.1" width="9" height="9"/><rect x="937.3" y="583" width="9" height="9"/><rect x="978.9" y="536.3" width="9" height="9"/><rect x="1006.6" y="542.1" width="9" height="9"/><rect x="1034.4" y="545.4" width="9" height="9"/><rect x="1103.7" y="551.2" width="9" height="9"/>
</g>
<g fill="#404040">
<rect x="701.5" y="693.8" width="9" height="9"/><rect x="743.1" y="692.8" width="9" height="9"/><rect x="770.9" y="677.9" width="9" height="9"/><rect x="798.6" y="658.2" width="9" height="9"/><rect x="826.3" y="635" width="9" height="9"/><rect x="854.1" y="621.5" width="9" height="9"/><rect x="909.6" y="611.5" width="9" height="9"/><rect x="937.3" y="605.7" width="9" height="9"/><rect x="978.9" y="595.5" width="9" height="9"/><rect x="1006.6" y="589.8" width="9" height="9"/><rect x="1034.4" y="588.8" width="9" height="9"/><rect x="1103.7" y="594.6" width="9" height="9"/>
</g>
<g fill="#2D6DB5">
<rect x="701.5" y="506.9" width="9" height="9"/><rect x="743.1" y="526.4" width="9" height="9"/><rect x="770.9" y="581.1" width="9" height="9"/><rect x="798.6" y="646.1" width="9" height="9"/><rect x="826.3" y="683.2" width="9" height="9"/><rect x="854.1" y="683.2" width="9" height="9"/><rect x="909.6" y="683.2" width="9" height="9"/><rect x="937.3" y="683.2" width="9" height="9"/><rect x="978.9" y="673.9" width="9" height="9"/><rect x="1006.6" y="673.9" width="9" height="9"/><rect x="1034.4" y="664.6" width="9" height="9"/><rect x="1103.7" y="664.6" width="9" height="9"/>
</g>
<path d="M766.4,428.3H791.2" stroke="#404040" stroke-width="2"/><rect x="774.8" y="424.3" width="8" height="8" fill="#404040"/>
<path d="M766.4,454.3H791.2" stroke="#E2262B" stroke-width="2"/><rect x="774.8" y="450.3" width="8" height="8" fill="#E2262B"/>
<path d="M766.4,474.3H791.2" stroke="#2D6DB5" stroke-width="2"/><rect x="774.8" y="470.3" width="8" height="8" fill="#2D6DB5"/>
<text x="801" y="434" font-size="16">OD<tspan font-size="10" dy="4">600</tspan></text>
<text x="801" y="460" font-size="16">Surfactin (g/L)</text>
<text x="801" y="480" font-size="16">Sucrose (g/L)</text>

<!-- ============ PANEL F ============ -->
<text x="638" y="811" font-size="24" class="b" text-anchor="middle">F</text>
<path d="M692,803.5V1105H1122M692,803.5H1122" fill="none" stroke="#111" stroke-width="1.6"/>
<path d="M686,1093.3H692M686,1045H692M686,996.7H692M686,948.4H692M686,900.1H692M686,851.8H692M686,803.5H692 M689,1069.2H692M689,1020.9H692M689,972.6H692M689,924.3H692M689,876H692M689,827.7H692 M702.8,1105V1111M725.5,1105V1111M748.2,1105V1111M770.8,1105V1111M793.5,1105V1111M816.2,1105V1111M838.9,1105V1111M861.6,1105V1111M884.2,1105V1111M906.9,1105V1111M929.6,1105V1111M952.3,1105V1111M975,1105V1111M997.6,1105V1111M1020.3,1105V1111M1043,1105V1111M1065.7,1105V1111M1088.4,1105V1111M1111,1105V1111 M714.1,1105V1108M736.8,1105V1108M759.5,1105V1108M782.2,1105V1108M804.9,1105V1108M827.5,1105V1108M850.2,1105V1108M872.9,1105V1108M895.6,1105V1108M918.3,1105V1108M940.9,1105V1108M963.6,1105V1108M986.3,1105V1108M1009,1105V1108M1031.7,1105V1108M1054.3,1105V1108M1077,1105V1108M1099.7,1105V1108" stroke="#111" stroke-width="1.4"/>
<path d="M1122,803.5V1105 M1122,1081H1128M1122,1034.8H1128M1122,988.7H1128M1122,942.5H1128M1122,896.3H1128M1122,850.2H1128M1122,804H1128 M1122,1104H1125M1122,1057.9H1125M1122,1011.7H1125M1122,965.6H1125M1122,919.4H1125M1122,873.2H1125M1122,827.1H1125" stroke="#E0302F" stroke-width="1.6" fill="none"/>
<path d="M1188,803.3V1105 M1188,1081.7H1194M1188,1035.3H1194M1188,988.9H1194M1188,942.5H1194M1188,896.1H1194M1188,849.7H1194M1188,803.3H1194 M1188,1058.5H1191M1188,1012.1H1191M1188,965.7H1191M1188,919.3H1191M1188,872.9H1191M1188,826.5H1191" stroke="#2F6DB3" stroke-width="1.8" fill="none"/>
<g font-size="20" class="b" text-anchor="end" style="fill:#444">
<text x="684" y="810.5" class="b">60</text><text x="684" y="858.8" class="b">50</text><text x="684" y="907.1" class="b">40</text><text x="684" y="955.4" class="b">30</text><text x="684" y="1003.7" class="b">20</text><text x="684" y="1052" class="b">10</text><text x="684" y="1100.3" class="b">0</text>
</g>
<g font-size="19">
<text x="1132" y="811" style="fill:#E0302F">60</text><text x="1132" y="857.2" style="fill:#E0302F">50</text><text x="1132" y="903.3" style="fill:#E0302F">40</text><text x="1132" y="949.5" style="fill:#E0302F">30</text><text x="1132" y="995.7" style="fill:#E0302F">20</text><text x="1132" y="1041.8" style="fill:#E0302F">10</text><text x="1132" y="1088" style="fill:#E0302F">0</text>
</g>
<g font-size="18" class="b">
<text x="1198" y="810.3" class="b" style="fill:#2F6DB3">30</text><text x="1198" y="856.7" class="b" style="fill:#2F6DB3">25</text><text x="1198" y="903.1" class="b" style="fill:#2F6DB3">20</text><text x="1198" y="949.5" class="b" style="fill:#2F6DB3">15</text><text x="1198" y="995.9" class="b" style="fill:#2F6DB3">10</text><text x="1198" y="1042.3" class="b" style="fill:#2F6DB3">5</text><text x="1198" y="1088.7" class="b" style="fill:#2F6DB3">0</text>
</g>
<g font-size="20" class="b" text-anchor="middle">
<text x="702.8" y="1133" class="b">0</text><text x="725.5" y="1133" class="b">2</text><text x="748.2" y="1133" class="b">4</text><text x="770.8" y="1133" class="b">6</text><text x="793.5" y="1133" class="b">8</text><text x="816.2" y="1133" class="b">10</text><text x="838.9" y="1133" class="b">12</text><text x="861.6" y="1133" class="b">14</text><text x="884.2" y="1133" class="b">16</text><text x="906.9" y="1133" class="b">18</text><text x="929.6" y="1133" class="b">20</text><text x="952.3" y="1133" class="b">22</text><text x="975" y="1133" class="b">24</text><text x="997.6" y="1133" class="b">26</text><text x="1020.3" y="1133" class="b">28</text><text x="1043" y="1133" class="b">30</text><text x="1065.7" y="1133" class="b">32</text><text x="1088.4" y="1133" class="b">34</text><text x="1111" y="1133" class="b">36</text>
</g>
<text x="907" y="1165" font-size="20" class="b" text-anchor="middle">Time (h)</text>
<text transform="translate(653,955) rotate(-90)" font-size="21" class="b" text-anchor="middle" style="fill:#444">OD<tspan font-size="13" dy="5" style="fill:#444">600</tspan></text>
<text transform="translate(1167,953) rotate(-90)" font-size="20" class="b" text-anchor="middle" style="fill:#E0302F">Surfactin (g/L)</text>
<text transform="translate(1232,953) rotate(-90)" font-size="19" class="b" text-anchor="middle" style="fill:#2F6DB3">Sucrose (g/L)</text>
<polyline points="702.8,914.7 736.8,923.9 759.5,961.1 782.2,1035.3 804.9,1081.7 827.5,1081.7 850.2,1081.7 872.9,1081.7 895.6,1081.7 918.3,1072.4 940.9,1072.4 975,1072.4 1009,1072.4 1043,1072.4 1077,1063.1 1111,1063.1" fill="none" stroke="#2D6DB5" stroke-width="2"/>
<polyline points="702.8,1081 736.8,1073.2 759.5,1056.1 782.2,1041.8 804.9,1018.2 827.5,999.7 850.2,960 872.9,935.6 895.6,907.4 918.3,888 940.9,871.4 975,860.8 1009,849.2 1043,837.2 1077,843.7 1111,845.5" fill="none" stroke="#E2262B" stroke-width="2"/>
<polyline points="702.8,1093.3 736.8,1080.7 759.5,1065.8 782.2,1044 804.9,1016.5 827.5,992.8 850.2,969.7 872.9,946.5 895.6,939.7 918.3,927.2 940.9,917 975,904 1009,897.2 1043,889.5 1077,897.2 1111,891.9" fill="none" stroke="#404040" stroke-width="2"/>
<path d="M702.8,1090.9V1095.7M698.8,1090.9H706.8M698.8,1095.7H706.8 M872.9,936.4V956.6M868.9,936.4H876.9M868.9,956.6H876.9 M895.6,935.8V943.6M891.6,935.8H899.6M891.6,943.6H899.6 M940.9,914.6V919.4M936.9,914.6H944.9M936.9,919.4H944.9 M975,901.6V906.4M971,901.6H979M971,906.4H979 M1009,892.4V902M1005,892.4H1013M1005,902H1013 M1043,883.7V895.3M1039,883.7H1047M1039,895.3H1047 M1077,880.8V913.6M1073,880.8H1081M1073,913.6H1081 M1111,878.9V904.9M1107,878.9H1115M1107,904.9H1115" stroke="#404040" stroke-width="1.3" fill="none"/>
<path d="M827.5,996V1003.4M823.5,996H831.5M823.5,1003.4H831.5 M850.2,954V966M846.2,954H854.2M846.2,966H854.2 M872.9,932.8V938.4M868.9,932.8H876.9M868.9,938.4H876.9 M895.6,899.1V915.7M891.6,899.1H899.6M891.6,915.7H899.6 M918.3,883.4V892.6M914.3,883.4H922.3M914.3,892.6H922.3 M940.9,864V878.8M936.9,864H944.9M936.9,878.8H944.9 M975,854.8V866.8M971,854.8H979M971,866.8H979 M1009,845.5V852.9M1005,845.5H1013M1005,852.9H1013 M1043,834.9V839.5M1039,834.9H1047M1039,839.5H1047 M1077,838.2V849.2M1073,838.2H1081M1073,849.2H1081 M1111,843.5V847.5M1107,843.5H1115M1107,847.5H1115" stroke="#E2262B" stroke-width="1.3" fill="none"/>
<g fill="#2D6DB5">
<rect x="698.3" y="910.2" width="9" height="9"/><rect x="732.3" y="919.4" width="9" height="9"/><rect x="755" y="956.6" width="9" height="9"/><rect x="777.7" y="1030.8" width="9" height="9"/><rect x="800.4" y="1077.2" width="9" height="9"/><rect x="823" y="1077.2" width="9" height="9"/><rect x="845.7" y="1077.2" width="9" height="9"/><rect x="868.4" y="1077.2" width="9" height="9"/><rect x="891.1" y="1077.2" width="9" height="9"/><rect x="913.8" y="1067.9" width="9" height="9"/><rect x="936.4" y="1067.9" width="9" height="9"/><rect x="970.5" y="1067.9" width="9" height="9"/><rect x="1004.5" y="1067.9" width="9" height="9"/><rect x="1038.5" y="1067.9" width="9" height="9"/><rect x="1072.5" y="1058.6" width="9" height="9"/><rect x="1106.5" y="1058.6" width="9" height="9"/>
</g>
<g fill="#E2262B">
<rect x="698.3" y="1076.5" width="9" height="9"/><rect x="732.3" y="1068.7" width="9" height="9"/><rect x="755" y="1051.6" width="9" height="9"/><rect x="777.7" y="1037.3" width="9" height="9"/><rect x="800.4" y="1013.7" width="9" height="9"/><rect x="823" y="995.2" width="9" height="9"/><rect x="845.7" y="955.5" width="9" height="9"/><rect x="868.4" y="931.1" width="9" height="9"/><rect x="891.1" y="902.9" width="9" height="9"/><rect x="913.8" y="883.5" width="9" height="9"/><rect x="936.4" y="866.9" width="9" height="9"/><rect x="970.5" y="856.3" width="9" height="9"/><rect x="1004.5" y="844.7" width="9" height="9"/><rect x="1038.5" y="832.7" width="9" height="9"/><rect x="1072.5" y="839.2" width="9" height="9"/><rect x="1106.5" y="841" width="9" height="9"/>
</g>
<g fill="#404040">
<rect x="698.3" y="1088.8" width="9" height="9"/><rect x="732.3" y="1076.2" width="9" height="9"/><rect x="755" y="1061.3" width="9" height="9"/><rect x="777.7" y="1039.5" width="9" height="9"/><rect x="800.4" y="1012" width="9" height="9"/><rect x="823" y="988.3" width="9" height="9"/><rect x="845.7" y="965.2" width="9" height="9"/><rect x="868.4" y="942" width="9" height="9"/><rect x="891.1" y="935.2" width="9" height="9"/><rect x="913.8" y="922.7" width="9" height="9"/><rect x="936.4" y="912.5" width="9" height="9"/><rect x="970.5" y="899.5" width="9" height="9"/><rect x="1004.5" y="892.7" width="9" height="9"/><rect x="1038.5" y="885" width="9" height="9"/><rect x="1072.5" y="892.7" width="9" height="9"/><rect x="1106.5" y="887.4" width="9" height="9"/>
</g>
<path d="M787,821.7H827" stroke="#404040" stroke-width="2"/><rect x="802.5" y="817.7" width="8" height="8" fill="#404040"/>
<path d="M787,842.7H827" stroke="#E2262B" stroke-width="2"/><rect x="802.5" y="838.7" width="8" height="8" fill="#E2262B"/>
<path d="M787,862.7H827" stroke="#2D6DB5" stroke-width="2"/><rect x="802.5" y="858.7" width="8" height="8" fill="#2D6DB5"/>
<text x="829" y="828" font-size="17">OD600</text>
<text x="829" y="849" font-size="17">Surfactin (g/L)</text>
<text x="829" y="869" font-size="17">Sucrose (g/L)</text>
</svg>
</body></html>
